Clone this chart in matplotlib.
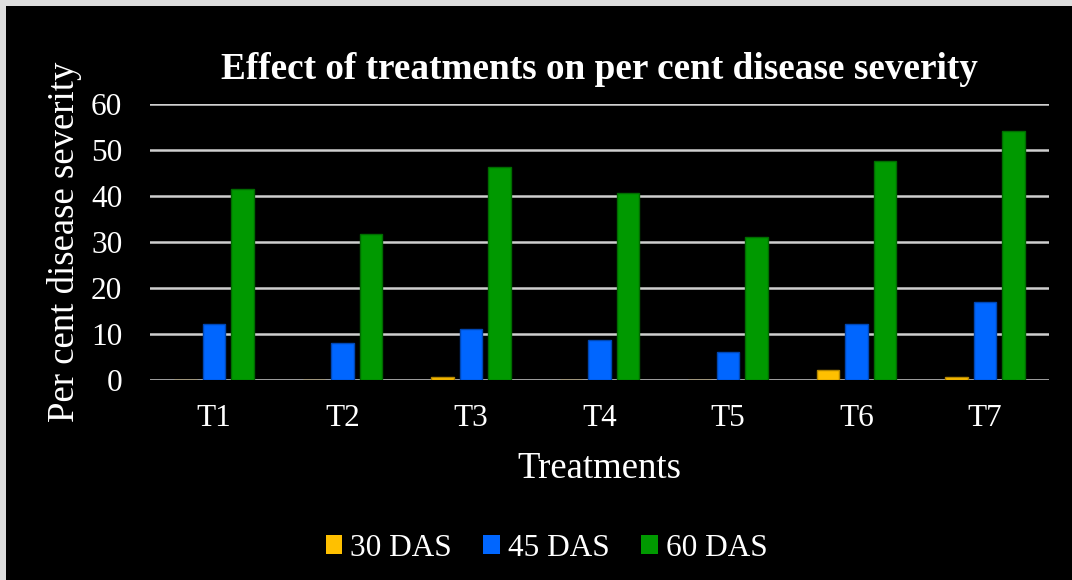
import matplotlib
matplotlib.use("Agg")
import matplotlib.pyplot as plt
from matplotlib.patches import Rectangle, Patch
import numpy as np

treatments = ["T1", "T2", "T3", "T4", "T5", "T6", "T7"]
series_names = ["30 DAS", "45 DAS", "60 DAS"]
das_30 = [0.0, 0.0, 0.6, 0.0, 0.0, 2.1, 0.6]
das_45 = [12.2, 8.0, 11.1, 8.8, 6.1, 12.2, 17.0]
das_60 = [41.5, 31.8, 46.3, 40.7, 31.1, 47.5, 54.1]
y_ticks = [0, 10, 20, 30, 40, 50, 60]

colors = ["#FFC000", "#0066FF", "#009900"]
edges = ["#B38600", "#0047B3", "#006B00"]

plt.rcParams["font.family"] = ["Liberation Serif", "DejaVu Serif"]

W, H = 1072, 580
fig = plt.figure(figsize=(W / 100, H / 100), dpi=100)
fig.patch.set_facecolor("#dedede")
fig.patches.append(Rectangle((6 / W, 0), 1 - 6 / W, 1 - 6 / H,
                             transform=fig.transFigure, facecolor="black",
                             edgecolor="none", zorder=-10))

ax = fig.add_axes([150 / W, (H - 380) / H, 899 / W, 276 / H])
ax.set_zorder(2)
ax.set_facecolor("black")

x = np.arange(len(treatments))
width = 0.175
step = 0.222
for i, (vals, c, e) in enumerate(zip([das_30, das_45, das_60], colors, edges)):
    ax.bar(x + (i - 1) * step, vals, width=width, color=c, edgecolor=e,
           linewidth=1.0, zorder=3, label=series_names[i])

ax.set_xlim(-0.5, len(treatments) - 0.5)
ax.set_ylim(0, 60)
ax.set_yticks(y_ticks)
ax.set_yticklabels([str(t) for t in y_ticks])
ax.set_xticks(x)
ax.set_xticklabels(treatments)
ax.grid(axis="y", color="#cfcfcf", linewidth=1.8, zorder=1)
ax.grid(axis="x", visible=False)
for s in ax.spines.values():
    s.set_visible(False)
ax.tick_params(axis="both", length=0, colors="white", labelsize=22.5)
ax.tick_params(axis="y", pad=20)
ax.tick_params(axis="x", pad=17)

fig.text(599.5 / W, (H - 79) / H,
         "Effect of treatments on per cent disease severity",
         ha="center", va="baseline", color="white", fontsize=26.8,
         fontweight="bold")
fig.text(599.5 / W, (H - 478) / H, "Treatments", ha="center",
         va="baseline", color="white", fontsize=26.5)
fig.text(65 / W, (H - 242) / H, "Per cent disease severity", rotation=90,
         ha="center", va="center", color="white", fontsize=26.5)

handles = [Patch(facecolor=c, edgecolor="none") for c in colors]
leg = fig.legend(handles, series_names, loc="center",
                 bbox_to_anchor=(546.5 / W, (H - 548) / H), ncol=3,
                 frameon=False, fontsize=22.5, handlelength=0.53,
                 handleheight=0.53, handletextpad=0.26, columnspacing=1.0,
                 borderpad=0)
for t in leg.get_texts():
    t.set_color("white")

fig.savefig("out.png", dpi=100, facecolor=fig.get_facecolor())
